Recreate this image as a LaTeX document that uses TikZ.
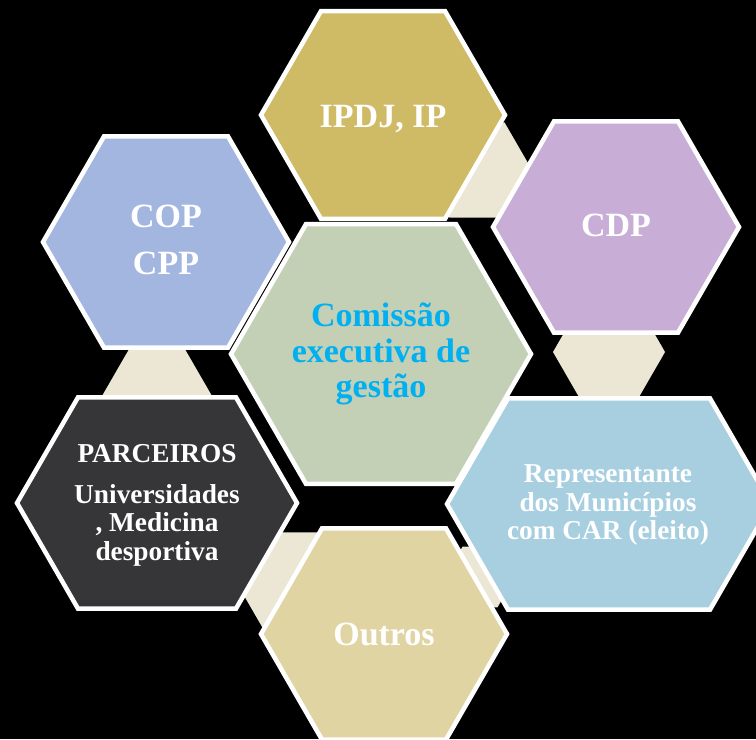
\documentclass[tikz,border=0pt]{standalone}
\usepackage{fontspec}
\setmainfont{Liberation Serif}

\definecolor{ipdjgold}{HTML}{CFBA66}
\definecolor{cdplilac}{HTML}{C8AED6}
\definecolor{copblue}{HTML}{A3B6E0}
\definecolor{cegsage}{HTML}{C4D0B6}
\definecolor{parcgray}{HTML}{363638}
\definecolor{repblue}{HTML}{A7CFE0}
\definecolor{outrossand}{HTML}{E1D4A3}
\definecolor{linkbeige}{HTML}{ECE6D5}
\definecolor{cegcyan}{HTML}{00B0F0}

\tikzset{
  cell/.style={draw=white, line width=3.4pt, line join=miter},
  link/.style={fill=linkbeige},
  bigtext/.style={text=white, align=center, font=\bfseries\fontsize{25.5}{26.5}\selectfont},
  smalltext/.style={text=white, align=center, font=\bfseries\fontsize{20.5}{21.4}\selectfont}
}

% [style] {cx} {cy} {half width} {half top side}
\newcommand{\hexcell}[5]{%
  \path[#1] ({#2-#4},#3) -- ({#2-#5},{#3-1.732*(#4-#5)}) -- ({#2+#5},{#3-1.732*(#4-#5)})
    -- ({#2+#4},#3) -- ({#2+#5},{#3+1.732*(#4-#5)}) -- ({#2-#5},{#3+1.732*(#4-#5)}) -- cycle;}

\begin{document}
\begin{tikzpicture}[x=0.75pt, y=-0.75pt]
  \clip (0,0) rectangle (756,739);
  \fill[black] (0,0) rectangle (756,739);

  \hexcell{link}{477}{170}{55}{27.5}
  \hexcell{link}{609}{352}{56}{28}
  \hexcell{link}{157}{396}{55}{27.5}
  \hexcell{link}{290}{580}{55}{27.5}
  \hexcell{link}{480}{577}{35}{17.5}

  \hexcell{cell, fill=ipdjgold}{383}{115}{122}{62}
  \hexcell{cell, fill=cdplilac}{616}{227}{123}{62}
  \hexcell{cell, fill=copblue}{166}{242}{123}{62}
  \hexcell{cell, fill=cegsage}{381}{354}{150}{75}
  \hexcell{cell, fill=parcgray}{157}{503}{140}{79}
  \hexcell{cell, fill=repblue}{609}{504}{162}{101}
  \hexcell{cell, fill=outrossand}{384}{634}{123}{62}

  \node[bigtext, anchor=base] (ipdj) at (383,127) {IPDJ, IP};
  \node[bigtext, anchor=base] (cdp) at (616,236) {CDP};
  \node[bigtext] (cop) at (166,240) {COP\\[9pt]CPP};
  \node[bigtext, text=cegcyan] (ceg) at (381,354) {Comissão\\executiva de\\gestão};
  \node[smalltext] (parc) at (157,505) {PARCEIROS\\[9.4pt]Universidades\\, Medicina\\desportiva};
  \node[smalltext] (rep) at (608,505) {Representante\\dos Municípios\\com CAR (eleito)};
  \node[bigtext, anchor=base] (outros) at (384,645) {Outros};
\end{tikzpicture}
\end{document}
